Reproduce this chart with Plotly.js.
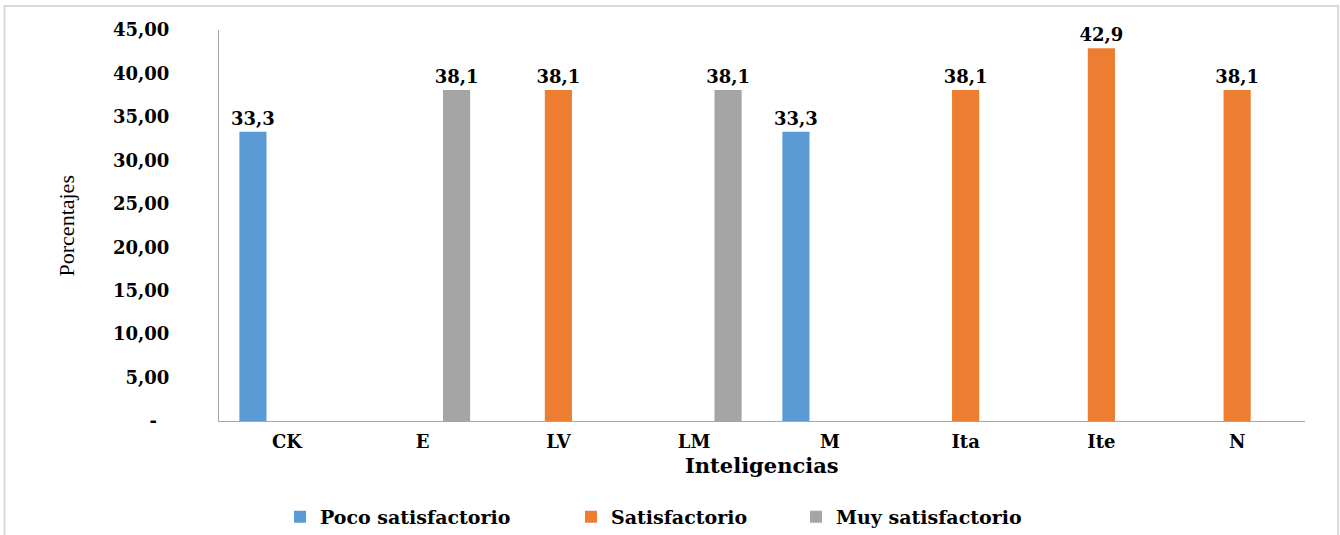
<!DOCTYPE html>
<html>
<head>
<meta charset="utf-8">
<script src="https://cdn.plot.ly/plotly-3.0.1.min.js"></script>
<style>html,body{margin:0;padding:0;background:#fff;}#chart{width:1340px;height:535px;}</style>
</head>
<body>
<div id="chart"></div>
<script>
const categories = ["CK", "E", "LV", "LM", "M", "Ita", "Ite", "N"];
const pocoSatisfactorio = [33.3, null, null, null, 33.3, null, null, null];
const satisfactorio = [null, null, 38.1, null, null, 38.1, 42.9, 38.1];
const muySatisfactorio = [null, 38.1, null, 38.1, null, null, null, null];
const seriesNames = ["Poco satisfactorio", "Satisfactorio", "Muy satisfactorio"];
const seriesColors = ["#5B9BD5", "#ED7D31", "#A5A5A5"];
const yTickVals = [0, 5, 10, 15, 20, 25, 30, 35, 40, 45];
const yTickText = ["-\u00a0\u00a0", "5,00", "10,00", "15,00", "20,00", "25,00", "30,00", "35,00", "40,00", "45,00"];

const wideSerif = "DejaVu Serif";
const serif = "Liberation Serif";
const seriesValues = [pocoSatisfactorio, satisfactorio, muySatisfactorio];
const legendIds = ["legend", "legend2", "legend3"];
const legendX = [0.0562, 0.3241, 0.5313];

const traces = seriesValues.map((vals, i) => ({
  type: "bar",
  name: seriesNames[i],
  x: categories,
  y: vals,
  legend: legendIds[i],
  marker: {color: seriesColors[i]},
  texttemplate: "%{y:.1f}",
  textposition: "outside",
  constraintext: "none",
  cliponaxis: false,
  textfont: {family: wideSerif, size: 18, color: "#000", weight: "bold"},
  hoverinfo: "x+y+name"
}));

const layout = {
  width: 1340,
  height: 535,
  margin: {l: 219, r: 35, t: 30, b: 114, autoexpand: false},
  paper_bgcolor: "#fff",
  plot_bgcolor: "#fff",
  separators: ",.",
  barmode: "group",
  bargap: 0.25,
  bargroupgap: 0.2,
  showlegend: true,
  xaxis: {
    type: "category",
    automargin: false,
    showline: true, linecolor: "#A6A6A6", linewidth: 1,
    showgrid: false, zeroline: false,
    ticks: "",
    ticklabelstandoff: 4,
    tickfont: {family: wideSerif, size: 18, color: "#000", weight: "bold"}
  },
  yaxis: {
    range: [0, 45],
    automargin: false,
    showline: true, linecolor: "#A6A6A6", linewidth: 1,
    showgrid: false, zeroline: false,
    ticks: "",
    tickvals: yTickVals,
    ticktext: yTickText,
    ticklabelstandoff: 45,
    tickfont: {family: wideSerif, size: 18, color: "#000", weight: "bold"}
  },
  annotations: [
    {text: "Porcentajes", xref: "paper", yref: "paper", x: -0.140, y: 0.5,
     xanchor: "center", yanchor: "middle", textangle: -90, showarrow: false,
     font: {family: serif, size: 22, color: "#000"}},
    {text: "Inteligencias", xref: "paper", yref: "paper", x: 0.5, y: -0.115,
     xanchor: "center", yanchor: "middle", showarrow: false,
     font: {family: wideSerif, size: 21, color: "#000", weight: "bold"}}
  ],
  shapes: [
    {type: "rect", xref: "paper", yref: "paper",
     x0: -0.1975, x1: 1.0305, y0: -0.35, y1: 1.0614,
     line: {color: "#D9D9D9", width: 2}, fillcolor: "rgba(0,0,0,0)", layer: "below"}
  ]
};

legendIds.forEach((id, i) => {
  layout[id] = {
    orientation: "h",
    xref: "paper", yref: "container",
    x: legendX[i], xanchor: "left",
    y: 0.034, yanchor: "middle",
    font: {family: wideSerif, size: 19, color: "#000", weight: "bold"},
    itemwidth: 30,
    bgcolor: "rgba(0,0,0,0)"
  };
});

Plotly.newPlot("chart", traces, layout, {displayModeBar: false, staticPlot: true});
</script>
</body>
</html>
